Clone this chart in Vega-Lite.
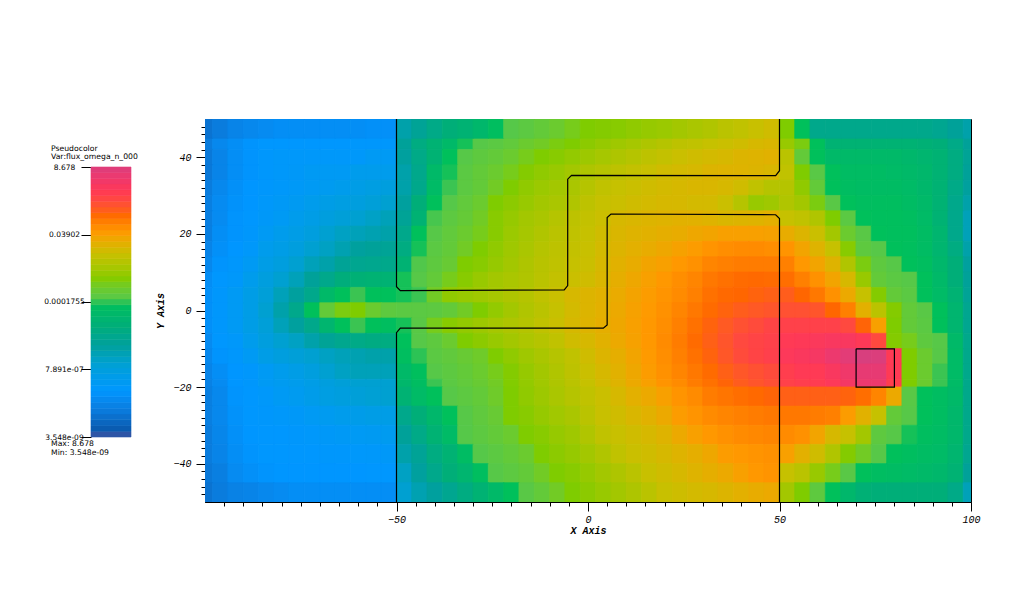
{"$schema":"https://vega.github.io/schema/vega-lite/v6.json","padding":{"left":43,"top":118,"right":40,"bottom":40},"background":"white","bounds":"flush","spacing":74,"config":{"view":{"stroke":null},"axis":{"grid":false,"domainColor":"black","tickColor":"black","labelColor":"black","titleColor":"black"}},"hconcat":[{"width":40,"height":383,"layer":[{"data":{"values":[{"v":3.55e-9,"v2":5.62e-9},{"v":5.62e-9,"v2":8.91e-9},{"v":8.91e-9,"v2":1.41e-8},{"v":1.41e-8,"v2":2.24e-8},{"v":2.24e-8,"v2":3.55e-8},{"v":3.55e-8,"v2":5.62e-8},{"v":5.62e-8,"v2":8.91e-8},{"v":8.91e-8,"v2":1.41e-7},{"v":1.41e-7,"v2":2.24e-7},{"v":2.24e-7,"v2":3.55e-7},{"v":3.55e-7,"v2":5.62e-7},{"v":5.62e-7,"v2":8.91e-7},{"v":8.91e-7,"v2":1.41e-6},{"v":1.41e-6,"v2":2.24e-6},{"v":2.24e-6,"v2":3.55e-6},{"v":3.55e-6,"v2":5.62e-6},{"v":5.62e-6,"v2":8.91e-6},{"v":8.91e-6,"v2":1.41e-5},{"v":1.41e-5,"v2":2.24e-5},{"v":2.24e-5,"v2":3.55e-5},{"v":3.55e-5,"v2":5.62e-5},{"v":5.62e-5,"v2":8.91e-5},{"v":8.91e-5,"v2":1.41e-4},{"v":1.41e-4,"v2":2.24e-4},{"v":2.24e-4,"v2":3.55e-4},{"v":3.55e-4,"v2":5.62e-4},{"v":5.62e-4,"v2":8.91e-4},{"v":8.91e-4,"v2":1.41e-3},{"v":1.41e-3,"v2":2.24e-3},{"v":2.24e-3,"v2":3.55e-3},{"v":3.55e-3,"v2":5.62e-3},{"v":5.62e-3,"v2":8.91e-3},{"v":8.91e-3,"v2":1.41e-2},{"v":1.41e-2,"v2":2.24e-2},{"v":2.24e-2,"v2":3.55e-2},{"v":3.55e-2,"v2":5.62e-2},{"v":5.62e-2,"v2":8.91e-2},{"v":8.91e-2,"v2":0.141},{"v":0.141,"v2":0.224},{"v":0.224,"v2":0.355},{"v":0.355,"v2":0.562},{"v":0.562,"v2":0.891},{"v":0.891,"v2":1.41},{"v":1.41,"v2":2.24},{"v":2.24,"v2":3.55},{"v":3.55,"v2":5.62},{"v":5.62,"v2":8.678}]},"mark":{"type":"rect","strokeWidth":0.6},"encoding":{"x":{"datum":0,"type":"quantitative","scale":{"domain":[0,1]},"axis":null},"x2":{"datum":1},"y":{"field":"v","type":"quantitative","scale":{"type":"log","domain":[3.548e-9,8.678],"range":[318,48]},"axis":{"values":[3.548e-9,7.891e-7,0.0001755,0.03902,8.678],"labelExpr":"datum.value<1e-8?'3.548e-09':datum.value<1e-6?'7.891e-07':datum.value<1e-3?'0.0001755':datum.value<1?'0.03902':'8.678'","title":null,"domain":false,"tickSize":10,"labelPadding":17,"labelAlign":"center","labelBaseline":"middle","labelFont":"DejaVu Sans","labelFontSize":7.5,"labelOverlap":false}},"y2":{"field":"v2"},"color":{"field":"v","type":"quantitative","legend":null,"scale":{"type":"log","domain":[3.548e-9,5.5e-9,2e-8,1.1e-7,7.9e-7,4.5e-6,2e-5,1.26e-4,1.75e-4,8e-4,6.5e-3,3.9e-2,0.16,1,8.678],"range":["#2e55a6","#0a5cb0","#0a78d8","#0096ff","#009fd8","#00a09a","#00ae78","#00c05a","#55c84a","#7fcc00","#c8c000","#ff9900","#ff6600","#ff3a55","#d6407f"]}},"stroke":{"field":"v","type":"quantitative","legend":null,"scale":{"type":"log","domain":[3.548e-9,5.5e-9,2e-8,1.1e-7,7.9e-7,4.5e-6,2e-5,1.26e-4,1.75e-4,8e-4,6.5e-3,3.9e-2,0.16,1,8.678],"range":["#2e55a6","#0a5cb0","#0a78d8","#0096ff","#009fd8","#00a09a","#00ae78","#00c05a","#55c84a","#7fcc00","#c8c000","#ff9900","#ff6600","#ff3a55","#d6407f"]}}}},{"data":{"values":[{"t":"Pseudocolor","v":36.6},{"t":"Var:flux_omega_n_000","v":19.3},{"t":"Max:  8.678","v":1.95e-9},{"t":"Min:  3.548e-09","v":9.9e-10}]},"mark":{"type":"text","align":"left","baseline":"middle","font":"DejaVu Sans","fontSize":7.7,"color":"black"},"encoding":{"x":{"datum":-1,"type":"quantitative","scale":{"domain":[0,1]}},"y":{"field":"v","type":"quantitative","scale":{"type":"log","domain":[3.548e-9,8.678],"range":[318,48]}},"text":{"field":"t"}}}]},{"width":766,"height":383,"view":{"stroke":"black","strokeWidth":1},"layer":[{"data":{"values":[
{"x":-100,"y":44,"v":2.5e-8},{"x":-96,"y":44,"v":5e-8},{"x":-92,"y":44,"v":7e-8},{"x":-88,"y":44,"v":1e-7},{"x":-84,"y":44,"v":1.2e-7},{"x":-80,"y":44,"v":1.2e-7},{"x":-76,"y":44,"v":1.2e-7},{"x":-72,"y":44,"v":1.2e-7},{"x":-68,"y":44,"v":1.2e-7},{"x":-64,"y":44,"v":1.2e-7},{"x":-60,"y":44,"v":1.3e-7},{"x":-56,"y":44,"v":1.3e-7},{"x":-52,"y":44,"v":1.3e-7},{"x":-48,"y":44,"v":5e-6},{"x":-44,"y":44,"v":1.5e-5},{"x":-40,"y":44,"v":3e-5},{"x":-36,"y":44,"v":6e-5},{"x":-32,"y":44,"v":1.3e-4},{"x":-28,"y":44,"v":1.9e-4},{"x":-24,"y":44,"v":2.2e-4},{"x":-20,"y":44,"v":2.8e-4},{"x":-16,"y":44,"v":4e-4},{"x":-12,"y":44,"v":5e-4},{"x":-8,"y":44,"v":7e-4},{"x":-4,"y":44,"v":8e-4},{"x":0,"y":44,"v":1.1e-3},{"x":4,"y":44,"v":1.4e-3},{"x":8,"y":44,"v":1.8e-3},{"x":12,"y":44,"v":2.2e-3},{"x":16,"y":44,"v":2.8e-3},{"x":20,"y":44,"v":3.5e-3},{"x":24,"y":44,"v":4.5e-3},{"x":28,"y":44,"v":5e-3},{"x":32,"y":44,"v":6e-3},{"x":36,"y":44,"v":7e-3},{"x":40,"y":44,"v":8e-3},{"x":44,"y":44,"v":1e-2},{"x":48,"y":44,"v":1.1e-2},{"x":52,"y":44,"v":1.5e-3},{"x":56,"y":44,"v":7e-4},{"x":60,"y":44,"v":1.2e-4},{"x":64,"y":44,"v":3e-5},{"x":68,"y":44,"v":3e-5},{"x":72,"y":44,"v":3e-5},{"x":76,"y":44,"v":3e-5},{"x":80,"y":44,"v":3e-5},{"x":84,"y":44,"v":3e-5},{"x":88,"y":44,"v":2.5e-5},{"x":92,"y":44,"v":2e-5},{"x":96,"y":44,"v":1.2e-5},{"x":100,"y":44,"v":5e-6},
{"x":-100,"y":40,"v":2e-8},{"x":-96,"y":40,"v":4e-8},{"x":-92,"y":40,"v":7e-8},{"x":-88,"y":40,"v":1e-7},{"x":-84,"y":40,"v":1.3e-7},{"x":-80,"y":40,"v":1.5e-7},{"x":-76,"y":40,"v":1.5e-7},{"x":-72,"y":40,"v":1.5e-7},{"x":-68,"y":40,"v":1.5e-7},{"x":-64,"y":40,"v":1.5e-7},{"x":-60,"y":40,"v":1.5e-7},{"x":-56,"y":40,"v":2e-7},{"x":-52,"y":40,"v":2e-7},{"x":-48,"y":40,"v":4e-6},{"x":-44,"y":40,"v":1.2e-5},{"x":-40,"y":40,"v":3e-5},{"x":-36,"y":40,"v":1.2e-4},{"x":-32,"y":40,"v":1.9e-4},{"x":-28,"y":40,"v":2.5e-4},{"x":-24,"y":40,"v":3e-4},{"x":-20,"y":40,"v":4e-4},{"x":-16,"y":40,"v":6e-4},{"x":-12,"y":40,"v":8e-4},{"x":-8,"y":40,"v":1e-3},{"x":-4,"y":40,"v":1.3e-3},{"x":0,"y":40,"v":1.7e-3},{"x":4,"y":40,"v":2.2e-3},{"x":8,"y":40,"v":2.8e-3},{"x":12,"y":40,"v":3.5e-3},{"x":16,"y":40,"v":4.5e-3},{"x":20,"y":40,"v":5.5e-3},{"x":24,"y":40,"v":7e-3},{"x":28,"y":40,"v":8e-3},{"x":32,"y":40,"v":9e-3},{"x":36,"y":40,"v":1e-2},{"x":40,"y":40,"v":1.2e-2},{"x":44,"y":40,"v":1.3e-2},{"x":48,"y":40,"v":1.4e-2},{"x":52,"y":40,"v":4e-3},{"x":56,"y":40,"v":3e-4},{"x":60,"y":40,"v":1.2e-4},{"x":64,"y":40,"v":6e-5},{"x":68,"y":40,"v":6e-5},{"x":72,"y":40,"v":6e-5},{"x":76,"y":40,"v":6e-5},{"x":80,"y":40,"v":6e-5},{"x":84,"y":40,"v":5e-5},{"x":88,"y":40,"v":4e-5},{"x":92,"y":40,"v":3e-5},{"x":96,"y":40,"v":1.5e-5},{"x":100,"y":40,"v":6e-6},
{"x":-100,"y":36,"v":2e-8},{"x":-96,"y":36,"v":4e-8},{"x":-92,"y":36,"v":7e-8},{"x":-88,"y":36,"v":1e-7},{"x":-84,"y":36,"v":1.3e-7},{"x":-80,"y":36,"v":1.5e-7},{"x":-76,"y":36,"v":1.6e-7},{"x":-72,"y":36,"v":2e-7},{"x":-68,"y":36,"v":2e-7},{"x":-64,"y":36,"v":2e-7},{"x":-60,"y":36,"v":3e-7},{"x":-56,"y":36,"v":3e-7},{"x":-52,"y":36,"v":3e-7},{"x":-48,"y":36,"v":3e-6},{"x":-44,"y":36,"v":1e-5},{"x":-40,"y":36,"v":6e-5},{"x":-36,"y":36,"v":1.3e-4},{"x":-32,"y":36,"v":2.2e-4},{"x":-28,"y":36,"v":3e-4},{"x":-24,"y":36,"v":4e-4},{"x":-20,"y":36,"v":6e-4},{"x":-16,"y":36,"v":9e-4},{"x":-12,"y":36,"v":1.2e-3},{"x":-8,"y":36,"v":1.5e-3},{"x":-4,"y":36,"v":2e-3},{"x":0,"y":36,"v":2.8e-3},{"x":4,"y":36,"v":3.5e-3},{"x":8,"y":36,"v":4.5e-3},{"x":12,"y":36,"v":5.5e-3},{"x":16,"y":36,"v":6.5e-3},{"x":20,"y":36,"v":8e-3},{"x":24,"y":36,"v":9e-3},{"x":28,"y":36,"v":1e-2},{"x":32,"y":36,"v":1.2e-2},{"x":36,"y":36,"v":1.3e-2},{"x":40,"y":36,"v":1.3e-2},{"x":44,"y":36,"v":1.2e-2},{"x":48,"y":36,"v":1.1e-2},{"x":52,"y":36,"v":5e-3},{"x":56,"y":36,"v":8e-4},{"x":60,"y":36,"v":2e-4},{"x":64,"y":36,"v":1.2e-4},{"x":68,"y":36,"v":8e-5},{"x":72,"y":36,"v":8e-5},{"x":76,"y":36,"v":8e-5},{"x":80,"y":36,"v":7e-5},{"x":84,"y":36,"v":6e-5},{"x":88,"y":36,"v":5e-5},{"x":92,"y":36,"v":3e-5},{"x":96,"y":36,"v":1.5e-5},{"x":100,"y":36,"v":5e-6},
{"x":-100,"y":32,"v":2.5e-8},{"x":-96,"y":32,"v":5e-8},{"x":-92,"y":32,"v":8e-8},{"x":-88,"y":32,"v":1.1e-7},{"x":-84,"y":32,"v":1.3e-7},{"x":-80,"y":32,"v":1.5e-7},{"x":-76,"y":32,"v":1.7e-7},{"x":-72,"y":32,"v":2e-7},{"x":-68,"y":32,"v":2.5e-7},{"x":-64,"y":32,"v":3e-7},{"x":-60,"y":32,"v":4e-7},{"x":-56,"y":32,"v":5e-7},{"x":-52,"y":32,"v":6e-7},{"x":-48,"y":32,"v":3e-6},{"x":-44,"y":32,"v":1e-5},{"x":-40,"y":32,"v":7e-5},{"x":-36,"y":32,"v":1.5e-4},{"x":-32,"y":32,"v":2.3e-4},{"x":-28,"y":32,"v":3e-4},{"x":-24,"y":32,"v":5e-4},{"x":-20,"y":32,"v":8e-4},{"x":-16,"y":32,"v":1.2e-3},{"x":-12,"y":32,"v":1.6e-3},{"x":-8,"y":32,"v":2e-3},{"x":-4,"y":32,"v":2.5e-3},{"x":0,"y":32,"v":3.5e-3},{"x":4,"y":32,"v":5e-3},{"x":8,"y":32,"v":6e-3},{"x":12,"y":32,"v":7e-3},{"x":16,"y":32,"v":8e-3},{"x":20,"y":32,"v":9e-3},{"x":24,"y":32,"v":1e-2},{"x":28,"y":32,"v":1.1e-2},{"x":32,"y":32,"v":1.1e-2},{"x":36,"y":32,"v":1e-2},{"x":40,"y":32,"v":8e-3},{"x":44,"y":32,"v":5e-3},{"x":48,"y":32,"v":3.5e-3},{"x":52,"y":32,"v":3.5e-3},{"x":56,"y":32,"v":1.2e-3},{"x":60,"y":32,"v":3e-4},{"x":64,"y":32,"v":1.2e-4},{"x":68,"y":32,"v":9e-5},{"x":72,"y":32,"v":8e-5},{"x":76,"y":32,"v":8e-5},{"x":80,"y":32,"v":8e-5},{"x":84,"y":32,"v":7e-5},{"x":88,"y":32,"v":5e-5},{"x":92,"y":32,"v":3e-5},{"x":96,"y":32,"v":1.2e-5},{"x":100,"y":32,"v":4e-6},
{"x":-100,"y":28,"v":3e-8},{"x":-96,"y":28,"v":6e-8},{"x":-92,"y":28,"v":9e-8},{"x":-88,"y":28,"v":1.1e-7},{"x":-84,"y":28,"v":1.5e-7},{"x":-80,"y":28,"v":1.8e-7},{"x":-76,"y":28,"v":2.2e-7},{"x":-72,"y":28,"v":3e-7},{"x":-68,"y":28,"v":4e-7},{"x":-64,"y":28,"v":5e-7},{"x":-60,"y":28,"v":6e-7},{"x":-56,"y":28,"v":8e-7},{"x":-52,"y":28,"v":1e-6},{"x":-48,"y":28,"v":4e-6},{"x":-44,"y":28,"v":2e-5},{"x":-40,"y":28,"v":1.2e-4},{"x":-36,"y":28,"v":1.8e-4},{"x":-32,"y":28,"v":2.8e-4},{"x":-28,"y":28,"v":4e-4},{"x":-24,"y":28,"v":8e-4},{"x":-20,"y":28,"v":1.1e-3},{"x":-16,"y":28,"v":1.5e-3},{"x":-12,"y":28,"v":2e-3},{"x":-8,"y":28,"v":2.5e-3},{"x":-4,"y":28,"v":3e-3},{"x":0,"y":28,"v":4.5e-3},{"x":4,"y":28,"v":6e-3},{"x":8,"y":28,"v":7e-3},{"x":12,"y":28,"v":8e-3},{"x":16,"y":28,"v":9e-3},{"x":20,"y":28,"v":1e-2},{"x":24,"y":28,"v":1e-2},{"x":28,"y":28,"v":9e-3},{"x":32,"y":28,"v":9e-3},{"x":36,"y":28,"v":7e-3},{"x":40,"y":28,"v":3.5e-3},{"x":44,"y":28,"v":1.5e-3},{"x":48,"y":28,"v":1.8e-3},{"x":52,"y":28,"v":3e-3},{"x":56,"y":28,"v":2e-3},{"x":60,"y":28,"v":7e-4},{"x":64,"y":28,"v":2e-4},{"x":68,"y":28,"v":1.2e-4},{"x":72,"y":28,"v":1e-4},{"x":76,"y":28,"v":1e-4},{"x":80,"y":28,"v":1e-4},{"x":84,"y":28,"v":8e-5},{"x":88,"y":28,"v":6e-5},{"x":92,"y":28,"v":3e-5},{"x":96,"y":28,"v":1e-5},{"x":100,"y":28,"v":3e-6},
{"x":-100,"y":24,"v":3e-8},{"x":-96,"y":24,"v":6e-8},{"x":-92,"y":24,"v":1e-7},{"x":-88,"y":24,"v":1.2e-7},{"x":-84,"y":24,"v":1.6e-7},{"x":-80,"y":24,"v":2e-7},{"x":-76,"y":24,"v":3e-7},{"x":-72,"y":24,"v":4e-7},{"x":-68,"y":24,"v":6e-7},{"x":-64,"y":24,"v":8e-7},{"x":-60,"y":24,"v":1e-6},{"x":-56,"y":24,"v":1.4e-6},{"x":-52,"y":24,"v":2e-6},{"x":-48,"y":24,"v":6e-6},{"x":-44,"y":24,"v":3e-5},{"x":-40,"y":24,"v":1.6e-4},{"x":-36,"y":24,"v":2.4e-4},{"x":-32,"y":24,"v":3.2e-4},{"x":-28,"y":24,"v":5e-4},{"x":-24,"y":24,"v":1e-3},{"x":-20,"y":24,"v":1.4e-3},{"x":-16,"y":24,"v":2e-3},{"x":-12,"y":24,"v":2.5e-3},{"x":-8,"y":24,"v":3.5e-3},{"x":-4,"y":24,"v":4.5e-3},{"x":0,"y":24,"v":5.5e-3},{"x":4,"y":24,"v":7e-3},{"x":8,"y":24,"v":1e-2},{"x":12,"y":24,"v":1.1e-2},{"x":16,"y":24,"v":1.2e-2},{"x":20,"y":24,"v":1.3e-2},{"x":24,"y":24,"v":1.4e-2},{"x":28,"y":24,"v":1.4e-2},{"x":32,"y":24,"v":1.3e-2},{"x":36,"y":24,"v":1.1e-2},{"x":40,"y":24,"v":1.2e-2},{"x":44,"y":24,"v":1.3e-2},{"x":48,"y":24,"v":1.5e-2},{"x":52,"y":24,"v":6e-3},{"x":56,"y":24,"v":5e-3},{"x":60,"y":24,"v":3e-3},{"x":64,"y":24,"v":8e-4},{"x":68,"y":24,"v":2.2e-4},{"x":72,"y":24,"v":1.2e-4},{"x":76,"y":24,"v":1.1e-4},{"x":80,"y":24,"v":1.1e-4},{"x":84,"y":24,"v":1e-4},{"x":88,"y":24,"v":7e-5},{"x":92,"y":24,"v":3e-5},{"x":96,"y":24,"v":1e-5},{"x":100,"y":24,"v":2e-6},
{"x":-100,"y":20,"v":3e-8},{"x":-96,"y":20,"v":7e-8},{"x":-92,"y":20,"v":1e-7},{"x":-88,"y":20,"v":1.3e-7},{"x":-84,"y":20,"v":2e-7},{"x":-80,"y":20,"v":3e-7},{"x":-76,"y":20,"v":4e-7},{"x":-72,"y":20,"v":6e-7},{"x":-68,"y":20,"v":1e-6},{"x":-64,"y":20,"v":1.5e-6},{"x":-60,"y":20,"v":2e-6},{"x":-56,"y":20,"v":2.5e-6},{"x":-52,"y":20,"v":3e-6},{"x":-48,"y":20,"v":1e-5},{"x":-44,"y":20,"v":1.2e-4},{"x":-40,"y":20,"v":1.9e-4},{"x":-36,"y":20,"v":2.8e-4},{"x":-32,"y":20,"v":4e-4},{"x":-28,"y":20,"v":6e-4},{"x":-24,"y":20,"v":1e-3},{"x":-20,"y":20,"v":1.6e-3},{"x":-16,"y":20,"v":2.2e-3},{"x":-12,"y":20,"v":3e-3},{"x":-8,"y":20,"v":4e-3},{"x":-4,"y":20,"v":5e-3},{"x":0,"y":20,"v":6e-3},{"x":4,"y":20,"v":8e-3},{"x":8,"y":20,"v":1.1e-2},{"x":12,"y":20,"v":1.3e-2},{"x":16,"y":20,"v":1.4e-2},{"x":20,"y":20,"v":1.6e-2},{"x":24,"y":20,"v":1.8e-2},{"x":28,"y":20,"v":2.2e-2},{"x":32,"y":20,"v":2.5e-2},{"x":36,"y":20,"v":3e-2},{"x":40,"y":20,"v":3e-2},{"x":44,"y":20,"v":3e-2},{"x":48,"y":20,"v":2.8e-2},{"x":52,"y":20,"v":1.8e-2},{"x":56,"y":20,"v":1.2e-2},{"x":60,"y":20,"v":7e-3},{"x":64,"y":20,"v":2e-3},{"x":68,"y":20,"v":4e-4},{"x":72,"y":20,"v":2e-4},{"x":76,"y":20,"v":1.2e-4},{"x":80,"y":20,"v":1.1e-4},{"x":84,"y":20,"v":1.1e-4},{"x":88,"y":20,"v":8e-5},{"x":92,"y":20,"v":4e-5},{"x":96,"y":20,"v":1e-5},{"x":100,"y":20,"v":2e-6},
{"x":-100,"y":16,"v":4e-8},{"x":-96,"y":16,"v":8e-8},{"x":-92,"y":16,"v":1.1e-7},{"x":-88,"y":16,"v":1.5e-7},{"x":-84,"y":16,"v":3e-7},{"x":-80,"y":16,"v":4e-7},{"x":-76,"y":16,"v":6e-7},{"x":-72,"y":16,"v":1e-6},{"x":-68,"y":16,"v":1.5e-6},{"x":-64,"y":16,"v":2.5e-6},{"x":-60,"y":16,"v":4e-6},{"x":-56,"y":16,"v":5e-6},{"x":-52,"y":16,"v":6e-6},{"x":-48,"y":16,"v":1.5e-5},{"x":-44,"y":16,"v":1.3e-4},{"x":-40,"y":16,"v":2.2e-4},{"x":-36,"y":16,"v":3e-4},{"x":-32,"y":16,"v":5e-4},{"x":-28,"y":16,"v":8e-4},{"x":-24,"y":16,"v":1.2e-3},{"x":-20,"y":16,"v":1.8e-3},{"x":-16,"y":16,"v":2.5e-3},{"x":-12,"y":16,"v":3.5e-3},{"x":-8,"y":16,"v":4.5e-3},{"x":-4,"y":16,"v":5.5e-3},{"x":0,"y":16,"v":6.5e-3},{"x":4,"y":16,"v":9e-3},{"x":8,"y":16,"v":1.2e-2},{"x":12,"y":16,"v":1.5e-2},{"x":16,"y":16,"v":1.8e-2},{"x":20,"y":16,"v":2.2e-2},{"x":24,"y":16,"v":2.8e-2},{"x":28,"y":16,"v":3.5e-2},{"x":32,"y":16,"v":4.5e-2},{"x":36,"y":16,"v":5.5e-2},{"x":40,"y":16,"v":6e-2},{"x":44,"y":16,"v":6e-2},{"x":48,"y":16,"v":5.5e-2},{"x":52,"y":16,"v":4.5e-2},{"x":56,"y":16,"v":2.5e-2},{"x":60,"y":16,"v":1.3e-2},{"x":64,"y":16,"v":6e-3},{"x":68,"y":16,"v":1e-3},{"x":72,"y":16,"v":2.5e-4},{"x":76,"y":16,"v":1.9e-4},{"x":80,"y":16,"v":1.2e-4},{"x":84,"y":16,"v":1.1e-4},{"x":88,"y":16,"v":8e-5},{"x":92,"y":16,"v":4e-5},{"x":96,"y":16,"v":1.5e-5},{"x":100,"y":16,"v":3e-6},
{"x":-100,"y":12,"v":5e-8},{"x":-96,"y":12,"v":1e-7},{"x":-92,"y":12,"v":1.3e-7},{"x":-88,"y":12,"v":2e-7},{"x":-84,"y":12,"v":4e-7},{"x":-80,"y":12,"v":6e-7},{"x":-76,"y":12,"v":1e-6},{"x":-72,"y":12,"v":2e-6},{"x":-68,"y":12,"v":3e-6},{"x":-64,"y":12,"v":6e-6},{"x":-60,"y":12,"v":8e-6},{"x":-56,"y":12,"v":9e-6},{"x":-52,"y":12,"v":1e-5},{"x":-48,"y":12,"v":3e-5},{"x":-44,"y":12,"v":1.7e-4},{"x":-40,"y":12,"v":2.5e-4},{"x":-36,"y":12,"v":3.5e-4},{"x":-32,"y":12,"v":8e-4},{"x":-28,"y":12,"v":1e-3},{"x":-24,"y":12,"v":1.4e-3},{"x":-20,"y":12,"v":2e-3},{"x":-16,"y":12,"v":2.8e-3},{"x":-12,"y":12,"v":3.8e-3},{"x":-8,"y":12,"v":4.8e-3},{"x":-4,"y":12,"v":6e-3},{"x":0,"y":12,"v":7e-3},{"x":4,"y":12,"v":1e-2},{"x":8,"y":12,"v":1.4e-2},{"x":12,"y":12,"v":1.8e-2},{"x":16,"y":12,"v":2.5e-2},{"x":20,"y":12,"v":3e-2},{"x":24,"y":12,"v":4e-2},{"x":28,"y":12,"v":5e-2},{"x":32,"y":12,"v":7e-2},{"x":36,"y":12,"v":8e-2},{"x":40,"y":12,"v":9e-2},{"x":44,"y":12,"v":9e-2},{"x":48,"y":12,"v":9e-2},{"x":52,"y":12,"v":8e-2},{"x":56,"y":12,"v":4e-2},{"x":60,"y":12,"v":2.5e-2},{"x":64,"y":12,"v":1.3e-2},{"x":68,"y":12,"v":3e-3},{"x":72,"y":12,"v":7e-4},{"x":76,"y":12,"v":2.5e-4},{"x":80,"y":12,"v":1.9e-4},{"x":84,"y":12,"v":1.2e-4},{"x":88,"y":12,"v":1e-4},{"x":92,"y":12,"v":5e-5},{"x":96,"y":12,"v":2e-5},{"x":100,"y":12,"v":4e-6},
{"x":-100,"y":8,"v":7e-8},{"x":-96,"y":8,"v":1.2e-7},{"x":-92,"y":8,"v":1.5e-7},{"x":-88,"y":8,"v":3e-7},{"x":-84,"y":8,"v":6e-7},{"x":-80,"y":8,"v":1e-6},{"x":-76,"y":8,"v":2e-6},{"x":-72,"y":8,"v":5e-6},{"x":-68,"y":8,"v":1e-5},{"x":-64,"y":8,"v":1.8e-5},{"x":-60,"y":8,"v":2.5e-5},{"x":-56,"y":8,"v":3e-5},{"x":-52,"y":8,"v":3e-5},{"x":-48,"y":8,"v":1.3e-4},{"x":-44,"y":8,"v":1.9e-4},{"x":-40,"y":8,"v":3e-4},{"x":-36,"y":8,"v":6e-4},{"x":-32,"y":8,"v":1e-3},{"x":-28,"y":8,"v":1.5e-3},{"x":-24,"y":8,"v":2e-3},{"x":-20,"y":8,"v":2.5e-3},{"x":-16,"y":8,"v":3e-3},{"x":-12,"y":8,"v":4e-3},{"x":-8,"y":8,"v":5.5e-3},{"x":-4,"y":8,"v":7e-3},{"x":0,"y":8,"v":8e-3},{"x":4,"y":8,"v":1.1e-2},{"x":8,"y":8,"v":1.6e-2},{"x":12,"y":8,"v":2.2e-2},{"x":16,"y":8,"v":3e-2},{"x":20,"y":8,"v":4e-2},{"x":24,"y":8,"v":5.5e-2},{"x":28,"y":8,"v":7e-2},{"x":32,"y":8,"v":0.1},{"x":36,"y":8,"v":0.12},{"x":40,"y":8,"v":0.14},{"x":44,"y":8,"v":0.15},{"x":48,"y":8,"v":0.14},{"x":52,"y":8,"v":0.13},{"x":56,"y":8,"v":8e-2},{"x":60,"y":8,"v":5e-2},{"x":64,"y":8,"v":2.5e-2},{"x":68,"y":8,"v":1e-2},{"x":72,"y":8,"v":1.5e-3},{"x":76,"y":8,"v":3e-4},{"x":80,"y":8,"v":2.2e-4},{"x":84,"y":8,"v":1.9e-4},{"x":88,"y":8,"v":1.2e-4},{"x":92,"y":8,"v":6e-5},{"x":96,"y":8,"v":2e-5},{"x":100,"y":8,"v":5e-6},
{"x":-100,"y":4,"v":8e-8},{"x":-96,"y":4,"v":1.3e-7},{"x":-92,"y":4,"v":2e-7},{"x":-88,"y":4,"v":4e-7},{"x":-84,"y":4,"v":8e-7},{"x":-80,"y":4,"v":2e-6},{"x":-76,"y":4,"v":4e-6},{"x":-72,"y":4,"v":1e-5},{"x":-68,"y":4,"v":6e-5},{"x":-64,"y":4,"v":1.2e-4},{"x":-60,"y":4,"v":1.5e-4},{"x":-56,"y":4,"v":1.2e-4},{"x":-52,"y":4,"v":1.2e-4},{"x":-48,"y":4,"v":1.3e-4},{"x":-44,"y":4,"v":1.5e-4},{"x":-40,"y":4,"v":5e-4},{"x":-36,"y":4,"v":1.2e-3},{"x":-32,"y":4,"v":1.5e-3},{"x":-28,"y":4,"v":1.8e-3},{"x":-24,"y":4,"v":2.2e-3},{"x":-20,"y":4,"v":2.8e-3},{"x":-16,"y":4,"v":3.5e-3},{"x":-12,"y":4,"v":5e-3},{"x":-8,"y":4,"v":7e-3},{"x":-4,"y":4,"v":1e-2},{"x":0,"y":4,"v":1.2e-2},{"x":4,"y":4,"v":1.4e-2},{"x":8,"y":4,"v":1.9e-2},{"x":12,"y":4,"v":2.6e-2},{"x":16,"y":4,"v":3.5e-2},{"x":20,"y":4,"v":4.5e-2},{"x":24,"y":4,"v":6e-2},{"x":28,"y":4,"v":8e-2},{"x":32,"y":4,"v":0.12},{"x":36,"y":4,"v":0.15},{"x":40,"y":4,"v":0.16},{"x":44,"y":4,"v":0.18},{"x":48,"y":4,"v":0.2},{"x":52,"y":4,"v":0.22},{"x":56,"y":4,"v":0.16},{"x":60,"y":4,"v":0.1},{"x":64,"y":4,"v":5e-2},{"x":68,"y":4,"v":2e-2},{"x":72,"y":4,"v":6e-3},{"x":76,"y":4,"v":9e-4},{"x":80,"y":4,"v":3e-4},{"x":84,"y":4,"v":2.2e-4},{"x":88,"y":4,"v":1.2e-4},{"x":92,"y":4,"v":7e-5},{"x":96,"y":4,"v":3e-5},{"x":100,"y":4,"v":6e-6},
{"x":-100,"y":0,"v":8e-8},{"x":-96,"y":0,"v":1.3e-7},{"x":-92,"y":0,"v":2e-7},{"x":-88,"y":0,"v":4e-7},{"x":-84,"y":0,"v":1e-6},{"x":-80,"y":0,"v":3e-6},{"x":-76,"y":0,"v":1e-5},{"x":-72,"y":0,"v":1.2e-4},{"x":-68,"y":0,"v":3e-4},{"x":-64,"y":0,"v":7e-4},{"x":-60,"y":0,"v":8e-4},{"x":-56,"y":0,"v":4e-4},{"x":-52,"y":0,"v":2.5e-4},{"x":-48,"y":0,"v":2.2e-4},{"x":-44,"y":0,"v":2.2e-4},{"x":-40,"y":0,"v":2.4e-4},{"x":-36,"y":0,"v":3e-4},{"x":-32,"y":0,"v":5e-4},{"x":-28,"y":0,"v":8e-4},{"x":-24,"y":0,"v":1.3e-3},{"x":-20,"y":0,"v":2e-3},{"x":-16,"y":0,"v":3e-3},{"x":-12,"y":0,"v":4e-3},{"x":-8,"y":0,"v":6e-3},{"x":-4,"y":0,"v":9e-3},{"x":0,"y":0,"v":1.2e-2},{"x":4,"y":0,"v":1.5e-2},{"x":8,"y":0,"v":2e-2},{"x":12,"y":0,"v":2.8e-2},{"x":16,"y":0,"v":3.8e-2},{"x":20,"y":0,"v":5e-2},{"x":24,"y":0,"v":7e-2},{"x":28,"y":0,"v":0.1},{"x":32,"y":0,"v":0.14},{"x":36,"y":0,"v":0.18},{"x":40,"y":0,"v":0.22},{"x":44,"y":0,"v":0.26},{"x":48,"y":0,"v":0.3},{"x":52,"y":0,"v":0.35},{"x":56,"y":0,"v":0.35},{"x":60,"y":0,"v":0.3},{"x":64,"y":0,"v":0.16},{"x":68,"y":0,"v":8e-2},{"x":72,"y":0,"v":1.5e-2},{"x":76,"y":0,"v":4e-3},{"x":80,"y":0,"v":9e-4},{"x":84,"y":0,"v":3e-4},{"x":88,"y":0,"v":2e-4},{"x":92,"y":0,"v":1.2e-4},{"x":96,"y":0,"v":4e-5},{"x":100,"y":0,"v":8e-6},
{"x":-100,"y":-4,"v":8e-8},{"x":-96,"y":-4,"v":1.3e-7},{"x":-92,"y":-4,"v":2e-7},{"x":-88,"y":-4,"v":4e-7},{"x":-84,"y":-4,"v":8e-7},{"x":-80,"y":-4,"v":2e-6},{"x":-76,"y":-4,"v":4e-6},{"x":-72,"y":-4,"v":1e-5},{"x":-68,"y":-4,"v":4e-5},{"x":-64,"y":-4,"v":1.2e-4},{"x":-60,"y":-4,"v":1.5e-4},{"x":-56,"y":-4,"v":1.2e-4},{"x":-52,"y":-4,"v":1e-4},{"x":-48,"y":-4,"v":1.3e-4},{"x":-44,"y":-4,"v":2e-4},{"x":-40,"y":-4,"v":6e-4},{"x":-36,"y":-4,"v":1e-3},{"x":-32,"y":-4,"v":1.3e-3},{"x":-28,"y":-4,"v":1.7e-3},{"x":-24,"y":-4,"v":2.2e-3},{"x":-20,"y":-4,"v":2.8e-3},{"x":-16,"y":-4,"v":3.5e-3},{"x":-12,"y":-4,"v":5e-3},{"x":-8,"y":-4,"v":7e-3},{"x":-4,"y":-4,"v":1e-2},{"x":0,"y":-4,"v":1.3e-2},{"x":4,"y":-4,"v":1.6e-2},{"x":8,"y":-4,"v":2.2e-2},{"x":12,"y":-4,"v":3e-2},{"x":16,"y":-4,"v":4e-2},{"x":20,"y":-4,"v":5.5e-2},{"x":24,"y":-4,"v":8e-2},{"x":28,"y":-4,"v":0.12},{"x":32,"y":-4,"v":0.18},{"x":36,"y":-4,"v":0.25},{"x":40,"y":-4,"v":0.35},{"x":44,"y":-4,"v":0.45},{"x":48,"y":-4,"v":0.6},{"x":52,"y":-4,"v":0.7},{"x":56,"y":-4,"v":0.7},{"x":60,"y":-4,"v":0.7},{"x":64,"y":-4,"v":0.7},{"x":68,"y":-4,"v":0.5},{"x":72,"y":-4,"v":0.17},{"x":76,"y":-4,"v":3e-2},{"x":80,"y":-4,"v":8e-4},{"x":84,"y":-4,"v":3e-4},{"x":88,"y":-4,"v":2.2e-4},{"x":92,"y":-4,"v":1.2e-4},{"x":96,"y":-4,"v":4e-5},{"x":100,"y":-4,"v":8e-6},
{"x":-100,"y":-8,"v":6e-8},{"x":-96,"y":-8,"v":1.2e-7},{"x":-92,"y":-8,"v":1.5e-7},{"x":-88,"y":-8,"v":3e-7},{"x":-84,"y":-8,"v":6e-7},{"x":-80,"y":-8,"v":1e-6},{"x":-76,"y":-8,"v":1.5e-6},{"x":-72,"y":-8,"v":3e-6},{"x":-68,"y":-8,"v":6e-6},{"x":-64,"y":-8,"v":9e-6},{"x":-60,"y":-8,"v":1.2e-5},{"x":-56,"y":-8,"v":1.4e-5},{"x":-52,"y":-8,"v":1.5e-5},{"x":-48,"y":-8,"v":1.2e-4},{"x":-44,"y":-8,"v":1.9e-4},{"x":-40,"y":-8,"v":2.5e-4},{"x":-36,"y":-8,"v":4e-4},{"x":-32,"y":-8,"v":8e-4},{"x":-28,"y":-8,"v":1.1e-3},{"x":-24,"y":-8,"v":1.5e-3},{"x":-20,"y":-8,"v":2e-3},{"x":-16,"y":-8,"v":2.7e-3},{"x":-12,"y":-8,"v":3.5e-3},{"x":-8,"y":-8,"v":5e-3},{"x":-4,"y":-8,"v":8e-3},{"x":0,"y":-8,"v":1e-2},{"x":4,"y":-8,"v":1.4e-2},{"x":8,"y":-8,"v":2e-2},{"x":12,"y":-8,"v":2.8e-2},{"x":16,"y":-8,"v":4e-2},{"x":20,"y":-8,"v":6e-2},{"x":24,"y":-8,"v":9e-2},{"x":28,"y":-8,"v":0.14},{"x":32,"y":-8,"v":0.2},{"x":36,"y":-8,"v":0.3},{"x":40,"y":-8,"v":0.5},{"x":44,"y":-8,"v":0.6},{"x":48,"y":-8,"v":0.7},{"x":52,"y":-8,"v":1},{"x":56,"y":-8,"v":1.1},{"x":60,"y":-8,"v":1.3},{"x":64,"y":-8,"v":1.5},{"x":68,"y":-8,"v":1.5},{"x":72,"y":-8,"v":1.1},{"x":76,"y":-8,"v":0.5},{"x":80,"y":-8,"v":9e-4},{"x":84,"y":-8,"v":6e-4},{"x":88,"y":-8,"v":2.5e-4},{"x":92,"y":-8,"v":1.9e-4},{"x":96,"y":-8,"v":6e-5},{"x":100,"y":-8,"v":1e-5},
{"x":-100,"y":-12,"v":5e-8},{"x":-96,"y":-12,"v":1e-7},{"x":-92,"y":-12,"v":1.3e-7},{"x":-88,"y":-12,"v":2e-7},{"x":-84,"y":-12,"v":4e-7},{"x":-80,"y":-12,"v":6e-7},{"x":-76,"y":-12,"v":8e-7},{"x":-72,"y":-12,"v":1e-6},{"x":-68,"y":-12,"v":1.5e-6},{"x":-64,"y":-12,"v":2e-6},{"x":-60,"y":-12,"v":2.5e-6},{"x":-56,"y":-12,"v":3e-6},{"x":-52,"y":-12,"v":3e-6},{"x":-48,"y":-12,"v":1e-4},{"x":-44,"y":-12,"v":1.4e-4},{"x":-40,"y":-12,"v":2.2e-4},{"x":-36,"y":-12,"v":2.7e-4},{"x":-32,"y":-12,"v":3.5e-4},{"x":-28,"y":-12,"v":4.5e-4},{"x":-24,"y":-12,"v":8e-4},{"x":-20,"y":-12,"v":1.2e-3},{"x":-16,"y":-12,"v":1.8e-3},{"x":-12,"y":-12,"v":2.5e-3},{"x":-8,"y":-12,"v":3.5e-3},{"x":-4,"y":-12,"v":5e-3},{"x":0,"y":-12,"v":8e-3},{"x":4,"y":-12,"v":1.2e-2},{"x":8,"y":-12,"v":1.6e-2},{"x":12,"y":-12,"v":2.5e-2},{"x":16,"y":-12,"v":3.8e-2},{"x":20,"y":-12,"v":5.5e-2},{"x":24,"y":-12,"v":8e-2},{"x":28,"y":-12,"v":0.12},{"x":32,"y":-12,"v":0.18},{"x":36,"y":-12,"v":0.28},{"x":40,"y":-12,"v":0.45},{"x":44,"y":-12,"v":0.6},{"x":48,"y":-12,"v":0.75},{"x":52,"y":-12,"v":1.2},{"x":56,"y":-12,"v":1.4},{"x":60,"y":-12,"v":1.8},{"x":64,"y":-12,"v":3},{"x":68,"y":-12,"v":5},{"x":72,"y":-12,"v":8},{"x":76,"y":-12,"v":7},{"x":80,"y":-12,"v":1},{"x":84,"y":-12,"v":8e-4},{"x":88,"y":-12,"v":4e-4},{"x":92,"y":-12,"v":1.9e-4},{"x":96,"y":-12,"v":7e-5},{"x":100,"y":-12,"v":1e-5},
{"x":-100,"y":-16,"v":4e-8},{"x":-96,"y":-16,"v":7e-8},{"x":-92,"y":-16,"v":1.1e-7},{"x":-88,"y":-16,"v":1.3e-7},{"x":-84,"y":-16,"v":2e-7},{"x":-80,"y":-16,"v":3e-7},{"x":-76,"y":-16,"v":4e-7},{"x":-72,"y":-16,"v":6e-7},{"x":-68,"y":-16,"v":1e-6},{"x":-64,"y":-16,"v":1.5e-6},{"x":-60,"y":-16,"v":2e-6},{"x":-56,"y":-16,"v":2e-6},{"x":-52,"y":-16,"v":2e-6},{"x":-48,"y":-16,"v":6e-5},{"x":-44,"y":-16,"v":1.1e-4},{"x":-40,"y":-16,"v":1.9e-4},{"x":-36,"y":-16,"v":2.4e-4},{"x":-32,"y":-16,"v":3e-4},{"x":-28,"y":-16,"v":4e-4},{"x":-24,"y":-16,"v":6e-4},{"x":-20,"y":-16,"v":9e-4},{"x":-16,"y":-16,"v":1.4e-3},{"x":-12,"y":-16,"v":2e-3},{"x":-8,"y":-16,"v":3e-3},{"x":-4,"y":-16,"v":4.5e-3},{"x":0,"y":-16,"v":7e-3},{"x":4,"y":-16,"v":1e-2},{"x":8,"y":-16,"v":1.4e-2},{"x":12,"y":-16,"v":2.2e-2},{"x":16,"y":-16,"v":3.5e-2},{"x":20,"y":-16,"v":5e-2},{"x":24,"y":-16,"v":7e-2},{"x":28,"y":-16,"v":0.1},{"x":32,"y":-16,"v":0.14},{"x":36,"y":-16,"v":0.2},{"x":40,"y":-16,"v":0.28},{"x":44,"y":-16,"v":0.35},{"x":48,"y":-16,"v":0.45},{"x":52,"y":-16,"v":0.8},{"x":56,"y":-16,"v":1},{"x":60,"y":-16,"v":1},{"x":64,"y":-16,"v":1.5},{"x":68,"y":-16,"v":2.5},{"x":72,"y":-16,"v":4},{"x":76,"y":-16,"v":4},{"x":80,"y":-16,"v":1},{"x":84,"y":-16,"v":8e-4},{"x":88,"y":-16,"v":4e-4},{"x":92,"y":-16,"v":1.5e-4},{"x":96,"y":-16,"v":7e-5},{"x":100,"y":-16,"v":1e-5},
{"x":-100,"y":-20,"v":3.5e-8},{"x":-96,"y":-20,"v":6e-8},{"x":-92,"y":-20,"v":1.1e-7},{"x":-88,"y":-20,"v":1.3e-7},{"x":-84,"y":-20,"v":2e-7},{"x":-80,"y":-20,"v":2.5e-7},{"x":-76,"y":-20,"v":3e-7},{"x":-72,"y":-20,"v":4e-7},{"x":-68,"y":-20,"v":6e-7},{"x":-64,"y":-20,"v":8e-7},{"x":-60,"y":-20,"v":1e-6},{"x":-56,"y":-20,"v":1e-6},{"x":-52,"y":-20,"v":1e-6},{"x":-48,"y":-20,"v":5e-5},{"x":-44,"y":-20,"v":9e-5},{"x":-40,"y":-20,"v":1.5e-4},{"x":-36,"y":-20,"v":2.2e-4},{"x":-32,"y":-20,"v":2.8e-4},{"x":-28,"y":-20,"v":3.6e-4},{"x":-24,"y":-20,"v":5e-4},{"x":-20,"y":-20,"v":8.5e-4},{"x":-16,"y":-20,"v":1.3e-3},{"x":-12,"y":-20,"v":1.9e-3},{"x":-8,"y":-20,"v":2.8e-3},{"x":-4,"y":-20,"v":4e-3},{"x":0,"y":-20,"v":6e-3},{"x":4,"y":-20,"v":9e-3},{"x":8,"y":-20,"v":1.3e-2},{"x":12,"y":-20,"v":2e-2},{"x":16,"y":-20,"v":3e-2},{"x":20,"y":-20,"v":4.5e-2},{"x":24,"y":-20,"v":6e-2},{"x":28,"y":-20,"v":9e-2},{"x":32,"y":-20,"v":0.12},{"x":36,"y":-20,"v":0.17},{"x":40,"y":-20,"v":0.23},{"x":44,"y":-20,"v":0.3},{"x":48,"y":-20,"v":0.38},{"x":52,"y":-20,"v":0.7},{"x":56,"y":-20,"v":0.8},{"x":60,"y":-20,"v":0.9},{"x":64,"y":-20,"v":1.2},{"x":68,"y":-20,"v":2},{"x":72,"y":-20,"v":3},{"x":76,"y":-20,"v":3},{"x":80,"y":-20,"v":0.8},{"x":84,"y":-20,"v":8e-4},{"x":88,"y":-20,"v":4e-4},{"x":92,"y":-20,"v":1.5e-4},{"x":96,"y":-20,"v":7e-5},{"x":100,"y":-20,"v":1e-5}
]},"mark":{"type":"rect","width":15.7,"height":15.7,"clip":true,"strokeWidth":0.6},"encoding":{"x":{"field":"x","type":"quantitative","scale":{"domain":[-100,100],"nice":false,"zero":false},"axis":{"title":"X Axis","values":[-95,-90,-85,-80,-75,-70,-65,-60,-55,-50,-45,-40,-35,-30,-25,-20,-15,-10,-5,0,5,10,15,20,25,30,35,40,45,50,55,60,65,70,75,80,85,90,95,100],"tickCount":200,"format":"d","labelExpr":"datum.value%50===0?datum.label:''","labelOverlap":false,"labelFlush":false,"labelFont":"Liberation Mono","labelFontStyle":"italic","labelFontSize":10,"labelPadding":3,"tickSize":{"condition":{"test":"datum.value%50===0","value":9},"value":4},"titleFont":"Liberation Mono","titleFontStyle":"italic","titleFontWeight":"bold","titleFontSize":10,"titlePadding":1}},"y":{"field":"y","type":"quantitative","scale":{"domain":[-50,50],"nice":false,"zero":false},"axis":{"title":"Y Axis","values":[-48,-46,-44,-42,-40,-38,-36,-34,-32,-30,-28,-26,-24,-22,-20,-18,-16,-14,-12,-10,-8,-6,-4,-2,0,2,4,6,8,10,12,14,16,18,20,22,24,26,28,30,32,34,36,38,40,42,44,46,48],"tickCount":200,"format":"d","labelExpr":"datum.value%20===0?datum.label:''","labelOverlap":false,"labelFont":"Liberation Mono","labelFontStyle":"italic","labelFontSize":10,"labelPadding":5,"tickSize":{"condition":{"test":"datum.value%20===0","value":9},"value":4},"titleFont":"Liberation Mono","titleFontStyle":"italic","titleFontWeight":"bold","titleFontSize":10,"titlePadding":7}},"color":{"field":"v","type":"quantitative","legend":null,"scale":{"type":"log","domain":[3.548e-9,5.5e-9,2e-8,1.1e-7,7.9e-7,4.5e-6,2e-5,1.26e-4,1.75e-4,8e-4,6.5e-3,3.9e-2,0.16,1,8.678],"range":["#2e55a6","#0a5cb0","#0a78d8","#0096ff","#009fd8","#00a09a","#00ae78","#00c05a","#55c84a","#7fcc00","#c8c000","#ff9900","#ff6600","#ff3a55","#d6407f"]}},"stroke":{"field":"v","type":"quantitative","legend":null,"scale":{"type":"log","domain":[3.548e-9,5.5e-9,2e-8,1.1e-7,7.9e-7,4.5e-6,2e-5,1.26e-4,1.75e-4,8e-4,6.5e-3,3.9e-2,0.16,1,8.678],"range":["#2e55a6","#0a5cb0","#0a78d8","#0096ff","#009fd8","#00a09a","#00ae78","#00c05a","#55c84a","#7fcc00","#c8c000","#ff9900","#ff6600","#ff3a55","#d6407f"]}}}},{"data":{"values":[
{"x":-100,"y":47.5,"v":1.6e-8},{"x":-96,"y":47.5,"v":2.5e-8},{"x":-92,"y":47.5,"v":4e-8},{"x":-88,"y":47.5,"v":5e-8},{"x":-84,"y":47.5,"v":6e-8},{"x":-80,"y":47.5,"v":7e-8},{"x":-76,"y":47.5,"v":7e-8},{"x":-72,"y":47.5,"v":7e-8},{"x":-68,"y":47.5,"v":7e-8},{"x":-64,"y":47.5,"v":7e-8},{"x":-60,"y":47.5,"v":7e-8},{"x":-56,"y":47.5,"v":8e-8},{"x":-52,"y":47.5,"v":8e-8},{"x":-48,"y":47.5,"v":3e-6},{"x":-44,"y":47.5,"v":6e-6},{"x":-40,"y":47.5,"v":1.2e-5},{"x":-36,"y":47.5,"v":2e-5},{"x":-32,"y":47.5,"v":3e-5},{"x":-28,"y":47.5,"v":5e-5},{"x":-24,"y":47.5,"v":1e-4},{"x":-20,"y":47.5,"v":1.8e-4},{"x":-16,"y":47.5,"v":2.3e-4},{"x":-12,"y":47.5,"v":3e-4},{"x":-8,"y":47.5,"v":4e-4},{"x":-4,"y":47.5,"v":6e-4},{"x":0,"y":47.5,"v":8e-4},{"x":4,"y":47.5,"v":9e-4},{"x":8,"y":47.5,"v":1e-3},{"x":12,"y":47.5,"v":1.2e-3},{"x":16,"y":47.5,"v":1.4e-3},{"x":20,"y":47.5,"v":1.6e-3},{"x":24,"y":47.5,"v":2e-3},{"x":28,"y":47.5,"v":2.5e-3},{"x":32,"y":47.5,"v":3e-3},{"x":36,"y":47.5,"v":4e-3},{"x":40,"y":47.5,"v":5e-3},{"x":44,"y":47.5,"v":6.5e-3},{"x":48,"y":47.5,"v":8e-3},{"x":52,"y":47.5,"v":8e-4},{"x":56,"y":47.5,"v":1.2e-4},{"x":60,"y":47.5,"v":1e-5},{"x":64,"y":47.5,"v":1e-5},{"x":68,"y":47.5,"v":1e-5},{"x":72,"y":47.5,"v":1e-5},{"x":76,"y":47.5,"v":1e-5},{"x":80,"y":47.5,"v":1e-5},{"x":84,"y":47.5,"v":1e-5},{"x":88,"y":47.5,"v":1e-5},{"x":92,"y":47.5,"v":8e-6},{"x":96,"y":47.5,"v":5e-6},{"x":100,"y":47.5,"v":3e-6},
{"x":-100,"y":-22.5,"v":3e-8},{"x":-96,"y":-22.5,"v":5e-8},{"x":-92,"y":-22.5,"v":1e-7},{"x":-88,"y":-22.5,"v":1.2e-7},{"x":-84,"y":-22.5,"v":1.5e-7},{"x":-80,"y":-22.5,"v":2e-7},{"x":-76,"y":-22.5,"v":2.5e-7},{"x":-72,"y":-22.5,"v":3.5e-7},{"x":-68,"y":-22.5,"v":5e-7},{"x":-64,"y":-22.5,"v":6e-7},{"x":-60,"y":-22.5,"v":8e-7},{"x":-56,"y":-22.5,"v":9e-7},{"x":-52,"y":-22.5,"v":1e-6},{"x":-48,"y":-22.5,"v":3e-5},{"x":-44,"y":-22.5,"v":7e-5},{"x":-40,"y":-22.5,"v":1.2e-4},{"x":-36,"y":-22.5,"v":1.9e-4},{"x":-32,"y":-22.5,"v":2.4e-4},{"x":-28,"y":-22.5,"v":3e-4},{"x":-24,"y":-22.5,"v":4.5e-4},{"x":-20,"y":-22.5,"v":8e-4},{"x":-16,"y":-22.5,"v":1.2e-3},{"x":-12,"y":-22.5,"v":1.7e-3},{"x":-8,"y":-22.5,"v":2.5e-3},{"x":-4,"y":-22.5,"v":3.5e-3},{"x":0,"y":-22.5,"v":5e-3},{"x":4,"y":-22.5,"v":7e-3},{"x":8,"y":-22.5,"v":1e-2},{"x":12,"y":-22.5,"v":1.5e-2},{"x":16,"y":-22.5,"v":2e-2},{"x":20,"y":-22.5,"v":3e-2},{"x":24,"y":-22.5,"v":4.5e-2},{"x":28,"y":-22.5,"v":6e-2},{"x":32,"y":-22.5,"v":9e-2},{"x":36,"y":-22.5,"v":0.11},{"x":40,"y":-22.5,"v":0.13},{"x":44,"y":-22.5,"v":0.15},{"x":48,"y":-22.5,"v":0.17},{"x":52,"y":-22.5,"v":0.2},{"x":56,"y":-22.5,"v":0.2},{"x":60,"y":-22.5,"v":0.2},{"x":64,"y":-22.5,"v":0.2},{"x":68,"y":-22.5,"v":0.18},{"x":72,"y":-22.5,"v":0.13},{"x":76,"y":-22.5,"v":7e-2},{"x":80,"y":-22.5,"v":2e-2},{"x":84,"y":-22.5,"v":2e-4},{"x":88,"y":-22.5,"v":1.2e-4},{"x":92,"y":-22.5,"v":9e-5},{"x":96,"y":-22.5,"v":6e-5},{"x":100,"y":-22.5,"v":1e-5},
{"x":-100,"y":-27.5,"v":3e-8},{"x":-96,"y":-27.5,"v":5e-8},{"x":-92,"y":-27.5,"v":9e-8},{"x":-88,"y":-27.5,"v":1.2e-7},{"x":-84,"y":-27.5,"v":1.3e-7},{"x":-80,"y":-27.5,"v":1.5e-7},{"x":-76,"y":-27.5,"v":1.6e-7},{"x":-72,"y":-27.5,"v":2e-7},{"x":-68,"y":-27.5,"v":2.5e-7},{"x":-64,"y":-27.5,"v":3e-7},{"x":-60,"y":-27.5,"v":3.5e-7},{"x":-56,"y":-27.5,"v":4e-7},{"x":-52,"y":-27.5,"v":4e-7},{"x":-48,"y":-27.5,"v":1e-5},{"x":-44,"y":-27.5,"v":2e-5},{"x":-40,"y":-27.5,"v":5e-5},{"x":-36,"y":-27.5,"v":1.2e-4},{"x":-32,"y":-27.5,"v":1.9e-4},{"x":-28,"y":-27.5,"v":2.6e-4},{"x":-24,"y":-27.5,"v":3.5e-4},{"x":-20,"y":-27.5,"v":8e-4},{"x":-16,"y":-27.5,"v":1e-3},{"x":-12,"y":-27.5,"v":1.4e-3},{"x":-8,"y":-27.5,"v":1.9e-3},{"x":-4,"y":-27.5,"v":2.5e-3},{"x":0,"y":-27.5,"v":4e-3},{"x":4,"y":-27.5,"v":6.5e-3},{"x":8,"y":-27.5,"v":8e-3},{"x":12,"y":-27.5,"v":1.1e-2},{"x":16,"y":-27.5,"v":1.4e-2},{"x":20,"y":-27.5,"v":2e-2},{"x":24,"y":-27.5,"v":3.5e-2},{"x":28,"y":-27.5,"v":4.5e-2},{"x":32,"y":-27.5,"v":6e-2},{"x":36,"y":-27.5,"v":7e-2},{"x":40,"y":-27.5,"v":8e-2},{"x":44,"y":-27.5,"v":9e-2},{"x":48,"y":-27.5,"v":0.1},{"x":52,"y":-27.5,"v":0.1},{"x":56,"y":-27.5,"v":0.1},{"x":60,"y":-27.5,"v":9e-2},{"x":64,"y":-27.5,"v":8e-2},{"x":68,"y":-27.5,"v":3.5e-2},{"x":72,"y":-27.5,"v":1.4e-2},{"x":76,"y":-27.5,"v":6e-3},{"x":80,"y":-27.5,"v":3e-4},{"x":84,"y":-27.5,"v":1.9e-4},{"x":88,"y":-27.5,"v":1.2e-4},{"x":92,"y":-27.5,"v":9e-5},{"x":96,"y":-27.5,"v":5e-5},{"x":100,"y":-27.5,"v":1e-5},
{"x":-100,"y":-32.5,"v":2.5e-8},{"x":-96,"y":-32.5,"v":4.5e-8},{"x":-92,"y":-32.5,"v":8e-8},{"x":-88,"y":-32.5,"v":1.1e-7},{"x":-84,"y":-32.5,"v":1.2e-7},{"x":-80,"y":-32.5,"v":1.2e-7},{"x":-76,"y":-32.5,"v":1.3e-7},{"x":-72,"y":-32.5,"v":1.4e-7},{"x":-68,"y":-32.5,"v":1.6e-7},{"x":-64,"y":-32.5,"v":1.8e-7},{"x":-60,"y":-32.5,"v":2e-7},{"x":-56,"y":-32.5,"v":2.2e-7},{"x":-52,"y":-32.5,"v":2.5e-7},{"x":-48,"y":-32.5,"v":5e-6},{"x":-44,"y":-32.5,"v":1.2e-5},{"x":-40,"y":-32.5,"v":3e-5},{"x":-36,"y":-32.5,"v":7e-5},{"x":-32,"y":-32.5,"v":1.8e-4},{"x":-28,"y":-32.5,"v":2.4e-4},{"x":-24,"y":-32.5,"v":3e-4},{"x":-20,"y":-32.5,"v":4e-4},{"x":-16,"y":-32.5,"v":8e-4},{"x":-12,"y":-32.5,"v":1e-3},{"x":-8,"y":-32.5,"v":1.4e-3},{"x":-4,"y":-32.5,"v":1.8e-3},{"x":0,"y":-32.5,"v":3e-3},{"x":4,"y":-32.5,"v":5e-3},{"x":8,"y":-32.5,"v":6.5e-3},{"x":12,"y":-32.5,"v":8e-3},{"x":16,"y":-32.5,"v":1e-2},{"x":20,"y":-32.5,"v":1.3e-2},{"x":24,"y":-32.5,"v":2e-2},{"x":28,"y":-32.5,"v":3e-2},{"x":32,"y":-32.5,"v":4e-2},{"x":36,"y":-32.5,"v":5e-2},{"x":40,"y":-32.5,"v":6e-2},{"x":44,"y":-32.5,"v":6.5e-2},{"x":48,"y":-32.5,"v":7e-2},{"x":52,"y":-32.5,"v":6e-2},{"x":56,"y":-32.5,"v":5e-2},{"x":60,"y":-32.5,"v":2.5e-2},{"x":64,"y":-32.5,"v":1e-2},{"x":68,"y":-32.5,"v":6e-3},{"x":72,"y":-32.5,"v":2e-3},{"x":76,"y":-32.5,"v":2.5e-4},{"x":80,"y":-32.5,"v":1.9e-4},{"x":84,"y":-32.5,"v":1.3e-4},{"x":88,"y":-32.5,"v":1e-4},{"x":92,"y":-32.5,"v":8e-5},{"x":96,"y":-32.5,"v":5e-5},{"x":100,"y":-32.5,"v":1e-5},
{"x":-100,"y":-37.5,"v":2.5e-8},{"x":-96,"y":-37.5,"v":4e-8},{"x":-92,"y":-37.5,"v":7e-8},{"x":-88,"y":-37.5,"v":1e-7},{"x":-84,"y":-37.5,"v":1.2e-7},{"x":-80,"y":-37.5,"v":1.2e-7},{"x":-76,"y":-37.5,"v":1.2e-7},{"x":-72,"y":-37.5,"v":1.2e-7},{"x":-68,"y":-37.5,"v":1.3e-7},{"x":-64,"y":-37.5,"v":1.3e-7},{"x":-60,"y":-37.5,"v":1.4e-7},{"x":-56,"y":-37.5,"v":1.5e-7},{"x":-52,"y":-37.5,"v":1.6e-7},{"x":-48,"y":-37.5,"v":3e-6},{"x":-44,"y":-37.5,"v":6e-6},{"x":-40,"y":-37.5,"v":1.5e-5},{"x":-36,"y":-37.5,"v":3e-5},{"x":-32,"y":-37.5,"v":8e-5},{"x":-28,"y":-37.5,"v":1.8e-4},{"x":-24,"y":-37.5,"v":2.3e-4},{"x":-20,"y":-37.5,"v":3e-4},{"x":-16,"y":-37.5,"v":4e-4},{"x":-12,"y":-37.5,"v":8e-4},{"x":-8,"y":-37.5,"v":1.1e-3},{"x":-4,"y":-37.5,"v":1.4e-3},{"x":0,"y":-37.5,"v":2e-3},{"x":4,"y":-37.5,"v":3e-3},{"x":8,"y":-37.5,"v":5e-3},{"x":12,"y":-37.5,"v":7e-3},{"x":16,"y":-37.5,"v":8e-3},{"x":20,"y":-37.5,"v":1e-2},{"x":24,"y":-37.5,"v":1.3e-2},{"x":28,"y":-37.5,"v":1.6e-2},{"x":32,"y":-37.5,"v":2.2e-2},{"x":36,"y":-37.5,"v":3.5e-2},{"x":40,"y":-37.5,"v":4e-2},{"x":44,"y":-37.5,"v":4.5e-2},{"x":48,"y":-37.5,"v":5e-2},{"x":52,"y":-37.5,"v":3e-2},{"x":56,"y":-37.5,"v":1.5e-2},{"x":60,"y":-37.5,"v":8e-3},{"x":64,"y":-37.5,"v":3e-3},{"x":68,"y":-37.5,"v":9e-4},{"x":72,"y":-37.5,"v":5e-4},{"x":76,"y":-37.5,"v":1.9e-4},{"x":80,"y":-37.5,"v":1.2e-4},{"x":84,"y":-37.5,"v":1e-4},{"x":88,"y":-37.5,"v":8e-5},{"x":92,"y":-37.5,"v":7e-5},{"x":96,"y":-37.5,"v":4e-5},{"x":100,"y":-37.5,"v":8e-6},
{"x":-100,"y":-42.5,"v":2e-8},{"x":-96,"y":-42.5,"v":3e-8},{"x":-92,"y":-42.5,"v":6e-8},{"x":-88,"y":-42.5,"v":8e-8},{"x":-84,"y":-42.5,"v":1e-7},{"x":-80,"y":-42.5,"v":1.1e-7},{"x":-76,"y":-42.5,"v":1.1e-7},{"x":-72,"y":-42.5,"v":1.1e-7},{"x":-68,"y":-42.5,"v":1.1e-7},{"x":-64,"y":-42.5,"v":1.1e-7},{"x":-60,"y":-42.5,"v":1.1e-7},{"x":-56,"y":-42.5,"v":1.2e-7},{"x":-52,"y":-42.5,"v":1.2e-7},{"x":-48,"y":-42.5,"v":1.5e-6},{"x":-44,"y":-42.5,"v":4e-6},{"x":-40,"y":-42.5,"v":1e-5},{"x":-36,"y":-42.5,"v":2e-5},{"x":-32,"y":-42.5,"v":4e-5},{"x":-28,"y":-42.5,"v":1e-4},{"x":-24,"y":-42.5,"v":1.9e-4},{"x":-20,"y":-42.5,"v":2.4e-4},{"x":-16,"y":-42.5,"v":3e-4},{"x":-12,"y":-42.5,"v":5e-4},{"x":-8,"y":-42.5,"v":8e-4},{"x":-4,"y":-42.5,"v":1e-3},{"x":0,"y":-42.5,"v":1.4e-3},{"x":4,"y":-42.5,"v":2e-3},{"x":8,"y":-42.5,"v":2.8e-3},{"x":12,"y":-42.5,"v":4e-3},{"x":16,"y":-42.5,"v":6.5e-3},{"x":20,"y":-42.5,"v":8e-3},{"x":24,"y":-42.5,"v":1e-2},{"x":28,"y":-42.5,"v":1.3e-2},{"x":32,"y":-42.5,"v":1.6e-2},{"x":36,"y":-42.5,"v":2e-2},{"x":40,"y":-42.5,"v":3e-2},{"x":44,"y":-42.5,"v":4e-2},{"x":48,"y":-42.5,"v":4.5e-2},{"x":52,"y":-42.5,"v":6e-3},{"x":56,"y":-42.5,"v":4e-3},{"x":60,"y":-42.5,"v":1.5e-3},{"x":64,"y":-42.5,"v":6e-4},{"x":68,"y":-42.5,"v":2e-4},{"x":72,"y":-42.5,"v":1.2e-4},{"x":76,"y":-42.5,"v":9e-5},{"x":80,"y":-42.5,"v":8e-5},{"x":84,"y":-42.5,"v":7e-5},{"x":88,"y":-42.5,"v":6e-5},{"x":92,"y":-42.5,"v":5e-5},{"x":96,"y":-42.5,"v":3e-5},{"x":100,"y":-42.5,"v":5e-6},
{"x":-100,"y":-47.5,"v":1.6e-8},{"x":-96,"y":-47.5,"v":2.5e-8},{"x":-92,"y":-47.5,"v":3.5e-8},{"x":-88,"y":-47.5,"v":4e-8},{"x":-84,"y":-47.5,"v":5e-8},{"x":-80,"y":-47.5,"v":6e-8},{"x":-76,"y":-47.5,"v":7e-8},{"x":-72,"y":-47.5,"v":7e-8},{"x":-68,"y":-47.5,"v":7e-8},{"x":-64,"y":-47.5,"v":7e-8},{"x":-60,"y":-47.5,"v":7e-8},{"x":-56,"y":-47.5,"v":7e-8},{"x":-52,"y":-47.5,"v":7e-8},{"x":-48,"y":-47.5,"v":1e-6},{"x":-44,"y":-47.5,"v":2.5e-6},{"x":-40,"y":-47.5,"v":4e-6},{"x":-36,"y":-47.5,"v":8e-6},{"x":-32,"y":-47.5,"v":1.5e-5},{"x":-28,"y":-47.5,"v":3e-5},{"x":-24,"y":-47.5,"v":6e-5},{"x":-20,"y":-47.5,"v":1.2e-4},{"x":-16,"y":-47.5,"v":2e-4},{"x":-12,"y":-47.5,"v":3e-4},{"x":-8,"y":-47.5,"v":5e-4},{"x":-4,"y":-47.5,"v":8e-4},{"x":0,"y":-47.5,"v":1.1e-3},{"x":4,"y":-47.5,"v":1.5e-3},{"x":8,"y":-47.5,"v":2e-3},{"x":12,"y":-47.5,"v":2.8e-3},{"x":16,"y":-47.5,"v":4e-3},{"x":20,"y":-47.5,"v":6.5e-3},{"x":24,"y":-47.5,"v":7.5e-3},{"x":28,"y":-47.5,"v":9e-3},{"x":32,"y":-47.5,"v":1e-2},{"x":36,"y":-47.5,"v":1.2e-2},{"x":40,"y":-47.5,"v":1.5e-2},{"x":44,"y":-47.5,"v":1.8e-2},{"x":48,"y":-47.5,"v":2e-2},{"x":52,"y":-47.5,"v":2e-3},{"x":56,"y":-47.5,"v":8e-4},{"x":60,"y":-47.5,"v":2.5e-4},{"x":64,"y":-47.5,"v":1.2e-4},{"x":68,"y":-47.5,"v":5e-5},{"x":72,"y":-47.5,"v":2.5e-5},{"x":76,"y":-47.5,"v":2e-5},{"x":80,"y":-47.5,"v":2e-5},{"x":84,"y":-47.5,"v":2e-5},{"x":88,"y":-47.5,"v":2e-5},{"x":92,"y":-47.5,"v":2e-5},{"x":96,"y":-47.5,"v":1.2e-5},{"x":100,"y":-47.5,"v":2e-6}
]},"mark":{"type":"rect","width":15.7,"height":19.5,"clip":true,"strokeWidth":0.6},"encoding":{"x":{"field":"x","type":"quantitative"},"y":{"field":"y","type":"quantitative"},"color":{"field":"v","type":"quantitative","legend":null},"stroke":{"field":"v","type":"quantitative","legend":null}}},{"data":{"values":[{"g":"a","o":1,"x":-50,"y":50},{"g":"a","o":2,"x":-50,"y":6.2},{"g":"a","o":3,"x":-49,"y":5.2},{"g":"a","o":4,"x":-6.2,"y":5.4},{"x":-5.3,"y":6.5,"g":"a","o":5},{"g":"a","o":6,"x":-5.3,"y":34.3},{"g":"a","o":7,"x":-4.3,"y":35.3},{"g":"a","o":8,"x":49,"y":35.2},{"g":"a","o":9,"x":50,"y":36.5},{"g":"a","o":10,"x":50,"y":50},{"g":"b","o":1,"x":-50,"y":-50},{"g":"b","o":2,"x":-50,"y":-5.8},{"g":"b","o":3,"x":-49,"y":-4.6},{"g":"b","o":4,"x":4,"y":-4.6},{"g":"b","o":5,"x":5,"y":-3.8},{"g":"b","o":6,"x":5,"y":24.3},{"g":"b","o":7,"x":6,"y":25.2},{"g":"b","o":8,"x":49,"y":25},{"g":"b","o":9,"x":50,"y":24},{"g":"b","o":10,"x":50,"y":-50},{"g":"c","o":1,"x":70,"y":-10},{"g":"c","o":2,"x":80,"y":-10},{"g":"c","o":3,"x":80,"y":-20},{"g":"c","o":4,"x":70,"y":-20},{"g":"c","o":5,"x":70,"y":-10}]},"mark":{"type":"line","color":"black","strokeWidth":1.2,"clip":true},"encoding":{"x":{"field":"x","type":"quantitative"},"y":{"field":"y","type":"quantitative"},"detail":{"field":"g"},"order":{"field":"o","type":"quantitative"}}}]}]}
